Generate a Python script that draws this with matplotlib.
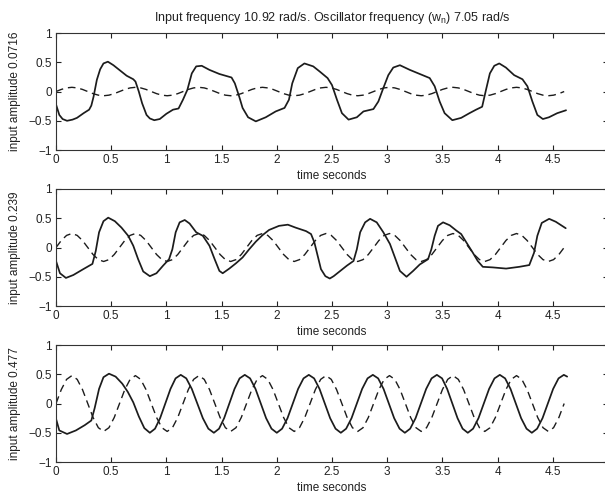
import numpy as np
import matplotlib
matplotlib.use('Agg')
import matplotlib.pyplot as plt

plt.rcParams['font.family'] = ['Liberation Sans', 'DejaVu Sans']
plt.rcParams['mathtext.fontset'] = 'custom'
plt.rcParams['mathtext.rm'] = 'Liberation Sans'
plt.rcParams['mathtext.it'] = 'Liberation Sans:italic'
plt.rcParams['mathtext.default'] = 'regular'

# ---------------- data ----------------
title = 'Input frequency 10.92 rad/s. Oscillator frequency (w$_n$) 7.05 rad/s'
amplitude_labels = ['0.0716', '0.239', '0.477']
x_label = 'time seconds'
xticks = [0, 0.5, 1, 1.5, 2, 2.5, 3, 3.5, 4, 4.5]
xtick_labels = ['0', '0.5', '1', '1.5', '2', '2.5', '3', '3.5', '4', '4.5']
yticks = [-1, -0.5, 0, 0.5, 1]
ytick_labels = ['\u22121', '\u22120.5', '0', '0.5', '1']

# input (dashed) sampled every 1/12 of the input period
t_input = np.linspace(0.0, 4.603, 97)
input1 = [0, 0.036, 0.062, 0.072, 0.062, 0.036, 0, -0.036, -0.062, -0.072, -0.062, -0.036,
          0, 0.036, 0.062, 0.072, 0.062, 0.036, 0, -0.036, -0.062, -0.072, -0.062, -0.036,
          0, 0.036, 0.062, 0.072, 0.062, 0.036, 0, -0.036, -0.062, -0.072, -0.062, -0.036,
          0, 0.036, 0.062, 0.072, 0.062, 0.036, 0, -0.036, -0.062, -0.072, -0.062, -0.036,
          0, 0.036, 0.062, 0.072, 0.062, 0.036, 0, -0.036, -0.062, -0.072, -0.062, -0.036,
          0, 0.036, 0.062, 0.072, 0.062, 0.036, 0, -0.036, -0.062, -0.072, -0.062, -0.036,
          0, 0.036, 0.062, 0.072, 0.062, 0.036, 0, -0.036, -0.062, -0.072, -0.062, -0.036,
          0, 0.036, 0.062, 0.072, 0.062, 0.036, 0, -0.036, -0.062, -0.072, -0.062, -0.036,
          0]
input2 = [0, 0.120, 0.207, 0.239, 0.207, 0.120, 0, -0.120, -0.207, -0.239, -0.207, -0.120,
          0, 0.120, 0.207, 0.239, 0.207, 0.120, 0, -0.120, -0.207, -0.239, -0.207, -0.120,
          0, 0.120, 0.207, 0.239, 0.207, 0.120, 0, -0.120, -0.207, -0.239, -0.207, -0.120,
          0, 0.120, 0.207, 0.239, 0.207, 0.120, 0, -0.120, -0.207, -0.239, -0.207, -0.120,
          0, 0.120, 0.207, 0.239, 0.207, 0.120, 0, -0.120, -0.207, -0.239, -0.207, -0.120,
          0, 0.120, 0.207, 0.239, 0.207, 0.120, 0, -0.120, -0.207, -0.239, -0.207, -0.120,
          0, 0.120, 0.207, 0.239, 0.207, 0.120, 0, -0.120, -0.207, -0.239, -0.207, -0.120,
          0, 0.120, 0.207, 0.239, 0.207, 0.120, 0, -0.120, -0.207, -0.239, -0.207, -0.120,
          0]
input3 = [0, 0.239, 0.413, 0.477, 0.413, 0.239, 0, -0.239, -0.413, -0.477, -0.413, -0.239,
          0, 0.239, 0.413, 0.477, 0.413, 0.239, 0, -0.239, -0.413, -0.477, -0.413, -0.239,
          0, 0.239, 0.413, 0.477, 0.413, 0.239, 0, -0.239, -0.413, -0.477, -0.413, -0.239,
          0, 0.239, 0.413, 0.477, 0.413, 0.239, 0, -0.239, -0.413, -0.477, -0.413, -0.239,
          0, 0.239, 0.413, 0.477, 0.413, 0.239, 0, -0.239, -0.413, -0.477, -0.413, -0.239,
          0, 0.239, 0.413, 0.477, 0.413, 0.239, 0, -0.239, -0.413, -0.477, -0.413, -0.239,
          0, 0.239, 0.413, 0.477, 0.413, 0.239, 0, -0.239, -0.413, -0.477, -0.413, -0.239,
          0, 0.239, 0.413, 0.477, 0.413, 0.239, 0, -0.239, -0.413, -0.477, -0.413, -0.239,
          0]

# oscillator output (solid)
t_osc1 = [0.00, 0.03, 0.06, 0.10, 0.15, 0.19, 0.25, 0.30, 0.32, 0.34,
          0.37, 0.40, 0.43, 0.47, 0.52, 0.58, 0.64, 0.70, 0.72, 0.75,
          0.78, 0.82, 0.85, 0.89, 0.94, 1.00, 1.06, 1.11, 1.15, 1.19,
          1.23, 1.27, 1.32, 1.39, 1.48, 1.59, 1.62, 1.66, 1.69, 1.74,
          1.81, 1.90, 1.99, 2.07, 2.11, 2.14, 2.19, 2.25, 2.33, 2.39,
          2.46, 2.50, 2.545, 2.59, 2.65, 2.725, 2.785, 2.875, 2.92, 2.965,
          3.01, 3.055, 3.115, 3.205, 3.295, 3.385, 3.43, 3.475, 3.52, 3.59,
          3.67, 3.745, 3.805, 3.86, 3.895, 3.93, 3.97, 4.015, 4.075, 4.15,
          4.225, 4.27, 4.315, 4.36, 4.41, 4.465, 4.54, 4.62]
y_osc1 = [-0.22, -0.40, -0.47, -0.50, -0.48, -0.45, -0.37, -0.31, -0.24, -0.09,
          0.20, 0.38, 0.48, 0.51, 0.45, 0.36, 0.27, 0.21, 0.17, 0.00,
          -0.20, -0.40, -0.46, -0.49, -0.47, -0.38, -0.31, -0.29, -0.14, 0.03,
          0.31, 0.43, 0.44, 0.37, 0.30, 0.24, 0.14, -0.09, -0.28, -0.44,
          -0.51, -0.44, -0.34, -0.28, -0.14, 0.14, 0.40, 0.48, 0.43, 0.34,
          0.23, 0.11, -0.14, -0.37, -0.48, -0.44, -0.34, -0.30, -0.17, 0.06,
          0.28, 0.41, 0.45, 0.37, 0.30, 0.23, 0.09, -0.17, -0.37, -0.49,
          -0.45, -0.37, -0.31, -0.26, 0.03, 0.31, 0.44, 0.48, 0.41, 0.28,
          0.21, 0.09, -0.17, -0.40, -0.47, -0.44, -0.37, -0.32]

t_osc2 = [0.00, 0.036, 0.09, 0.157, 0.247, 0.33, 0.36, 0.39, 0.43, 0.473,
          0.533, 0.593, 0.654, 0.70, 0.744, 0.79, 0.85, 0.91, 0.97, 1.024,
          1.054, 1.084, 1.12, 1.166, 1.21, 1.27, 1.33, 1.39, 1.437, 1.48,
          1.51, 1.57, 1.63, 1.69, 1.75, 1.81, 1.87, 1.93, 2.02, 2.10,
          2.17, 2.265, 2.31, 2.34, 2.37, 2.40, 2.44, 2.48, 2.515, 2.575,
          2.635, 2.695, 2.725, 2.755, 2.80, 2.845, 2.905, 2.965, 3.025, 3.07,
          3.115, 3.175, 3.235, 3.295, 3.37, 3.40, 3.43, 3.46, 3.506, 3.566,
          3.626, 3.67, 3.716, 3.776, 3.82, 3.866, 3.956, 4.077, 4.197, 4.287,
          4.33, 4.36, 4.40, 4.467, 4.527, 4.617]
y_osc2 = [-0.23, -0.44, -0.52, -0.47, -0.37, -0.28, -0.06, 0.26, 0.45, 0.51,
          0.45, 0.34, 0.20, 0.03, -0.20, -0.41, -0.49, -0.44, -0.31, -0.20,
          -0.03, 0.26, 0.43, 0.47, 0.41, 0.26, 0.20, 0.03, -0.20, -0.40,
          -0.44, -0.36, -0.27, -0.17, -0.03, 0.10, 0.21, 0.30, 0.37, 0.39,
          0.34, 0.28, 0.23, 0.09, -0.14, -0.37, -0.49, -0.53, -0.49, -0.40,
          -0.31, -0.23, -0.03, 0.26, 0.43, 0.49, 0.43, 0.26, 0.06, -0.17,
          -0.40, -0.50, -0.40, -0.29, -0.20, -0.03, 0.20, 0.37, 0.43, 0.38,
          0.29, 0.23, 0.09, -0.09, -0.23, -0.33, -0.34, -0.36, -0.33, -0.30,
          -0.09, 0.20, 0.42, 0.49, 0.44, 0.33]

t_osc3 = [0.00, 0.03, 0.10, 0.18, 0.26, 0.32, 0.35, 0.39, 0.43, 0.48,
          0.54, 0.60, 0.65, 0.70, 0.75, 0.80, 0.85,
          0.897, 0.943, 0.99, 1.037, 1.083, 1.13,
          1.18, 1.23, 1.28, 1.33, 1.38, 1.43,
          1.477, 1.523, 1.57, 1.617, 1.663, 1.71,
          1.758, 1.807, 1.855, 1.903, 1.952, 2.00,
          2.048, 2.097, 2.145, 2.193, 2.242, 2.29,
          2.338, 2.387, 2.435, 2.483, 2.532, 2.58,
          2.628, 2.677, 2.725, 2.773, 2.822, 2.87,
          2.918, 2.967, 3.015, 3.063, 3.112, 3.16,
          3.208, 3.257, 3.305, 3.353, 3.402, 3.45,
          3.497, 3.543, 3.59, 3.637, 3.683, 3.73,
          3.778, 3.827, 3.875, 3.923, 3.972, 4.02,
          4.068, 4.117, 4.165, 4.213, 4.262, 4.31,
          4.358, 4.407, 4.455, 4.503, 4.552, 4.60, 4.63]
y_osc3 = [-0.26, -0.46, -0.52, -0.46, -0.37, -0.29, -0.08, 0.25, 0.45, 0.51,
          0.46, 0.34, 0.20, 0.02, -0.22, -0.42, -0.50,
          -0.43, -0.25, 0.00, 0.25, 0.43, 0.49,
          0.43, 0.25, 0.00, -0.25, -0.43, -0.50,
          -0.43, -0.25, 0.00, 0.25, 0.43, 0.49,
          0.43, 0.25, 0.00, -0.25, -0.43, -0.50,
          -0.43, -0.25, 0.00, 0.25, 0.43, 0.49,
          0.43, 0.25, 0.00, -0.25, -0.43, -0.50,
          -0.43, -0.25, 0.00, 0.25, 0.43, 0.49,
          0.43, 0.25, 0.00, -0.25, -0.43, -0.50,
          -0.43, -0.25, 0.00, 0.25, 0.43, 0.49,
          0.43, 0.25, 0.00, -0.25, -0.43, -0.50,
          -0.43, -0.25, 0.00, 0.25, 0.43, 0.49,
          0.43, 0.25, 0.00, -0.25, -0.43, -0.50,
          -0.43, -0.25, 0.00, 0.25, 0.43, 0.49, 0.46]

inputs = [input1, input2, input3]
osc_t = [t_osc1, t_osc2, t_osc3]
osc_y = [y_osc1, y_osc2, y_osc3]

# ---------------- figure ----------------
W, H = 605, 498
fig = plt.figure(figsize=(W / 100, H / 100), dpi=100)
fig.patch.set_facecolor('white')

line_col = '#1c1c1c'
text_col = '#222222'
left = 56 / W
width = 552 / W
bottoms = [0.6987, 0.3855, 0.0722]
height = 0.235

for i in range(3):
    ax = fig.add_axes([left, bottoms[i], width, height])
    ax.plot(osc_t[i], osc_y[i], color=line_col, lw=1.25,
            solid_joinstyle='round', solid_capstyle='round')
    ax.plot(t_input, inputs[i], color=line_col, lw=1.0, linestyle=(0, (5.5, 3.5)))
    ax.set_xlim(0, 5)
    ax.set_ylim(-1, 1)
    ax.set_xticks(xticks)
    ax.set_xticklabels(xtick_labels)
    ax.set_yticks(yticks)
    ax.set_yticklabels(ytick_labels)
    ax.tick_params(direction='in', length=3.5, width=0.8, top=True, right=True,
                   labelsize=8.5, colors=text_col, pad=3)
    for s in ax.spines.values():
        s.set_linewidth(0.8)
        s.set_color('#333333')
    ax.set_ylabel('input amplitude ' + amplitude_labels[i], fontsize=8.5, color=text_col)
    ax.yaxis.set_label_coords(-0.064, 0.5)
    ax.set_xlabel(x_label, fontsize=8.5, color=text_col, labelpad=2.5)
    if i == 0:
        ax.set_title(title, fontsize=9, color=text_col, pad=9)

fig.savefig('out.png', dpi=100, facecolor='white')
